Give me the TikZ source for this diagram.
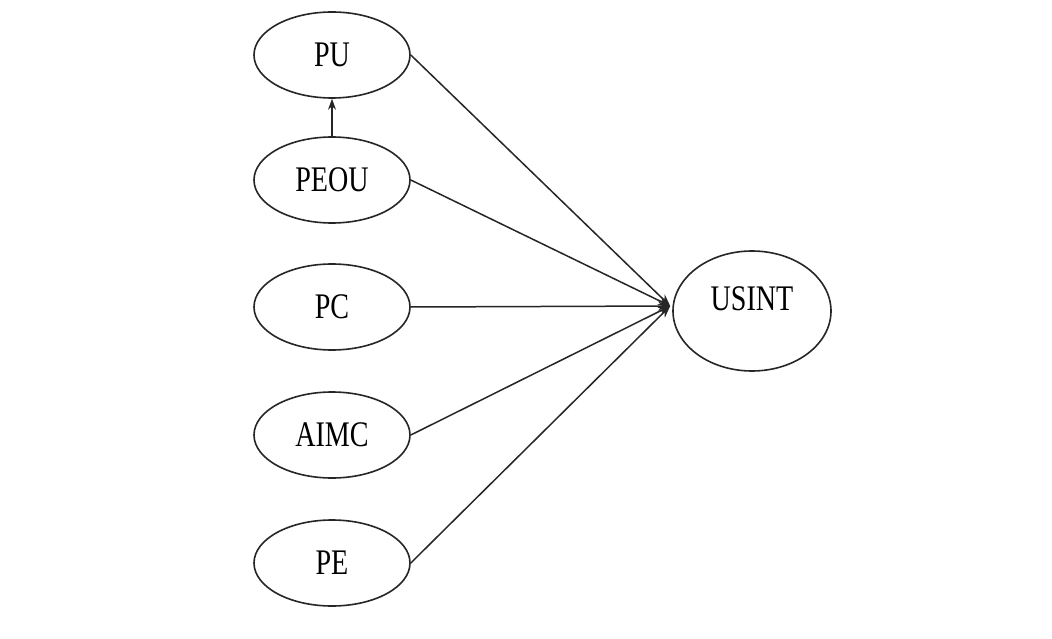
\documentclass[tikz,border=0pt]{standalone}
\usepackage{fontspec}
\setmainfont{Liberation Serif}
\usetikzlibrary{shapes.geometric,arrows.meta}
\begin{document}
\begin{tikzpicture}[x=1pt,y=-1pt,
  construct/.style={ellipse,draw=black!85,line width=1.6pt,inner sep=0pt,
    minimum width=156pt,minimum height=86pt,
    font=\fontsize{36}{40}\selectfont},
  outcome/.style={construct,minimum width=158pt,minimum height=120pt},
  path/.style={draw=black!85,line width=1.5pt,-{Stealth[length=12pt,width=9pt]}},
  minor/.style={draw=black!85,line width=1.1pt,-{Stealth[length=11pt,width=8pt]}}]
\newcommand{\cond}[1]{\scalebox{0.78}[1]{#1}}
\useasboundingbox (0,0) rectangle (1052,639);
\fill[white] (0,0) rectangle (1052,639);

\node[construct] (PU)   at (332,55)  {\cond{PU}};
\node[construct] (PEOU) at (332,180) {\cond{PEOU}};
\node[construct] (PC)   at (332,307) {\cond{PC}};
\node[construct] (AIMC) at (332,435) {\cond{AIMC}};
\node[construct] (PE)   at (332,563) {\cond{PE}};
\node[outcome]   (USINT) at (752,311) {\raisebox{12pt}[\height][\depth]{\cond{USINT}}};

\coordinate (hub) at ([xshift=-2pt,yshift=5pt]USINT.west);

\draw[minor] (PEOU.north) -- (PU.south);
\foreach \src in {PU,PEOU,PC,AIMC,PE}
  \draw[path] (\src.east) -- (hub);
\end{tikzpicture}
\end{document}
